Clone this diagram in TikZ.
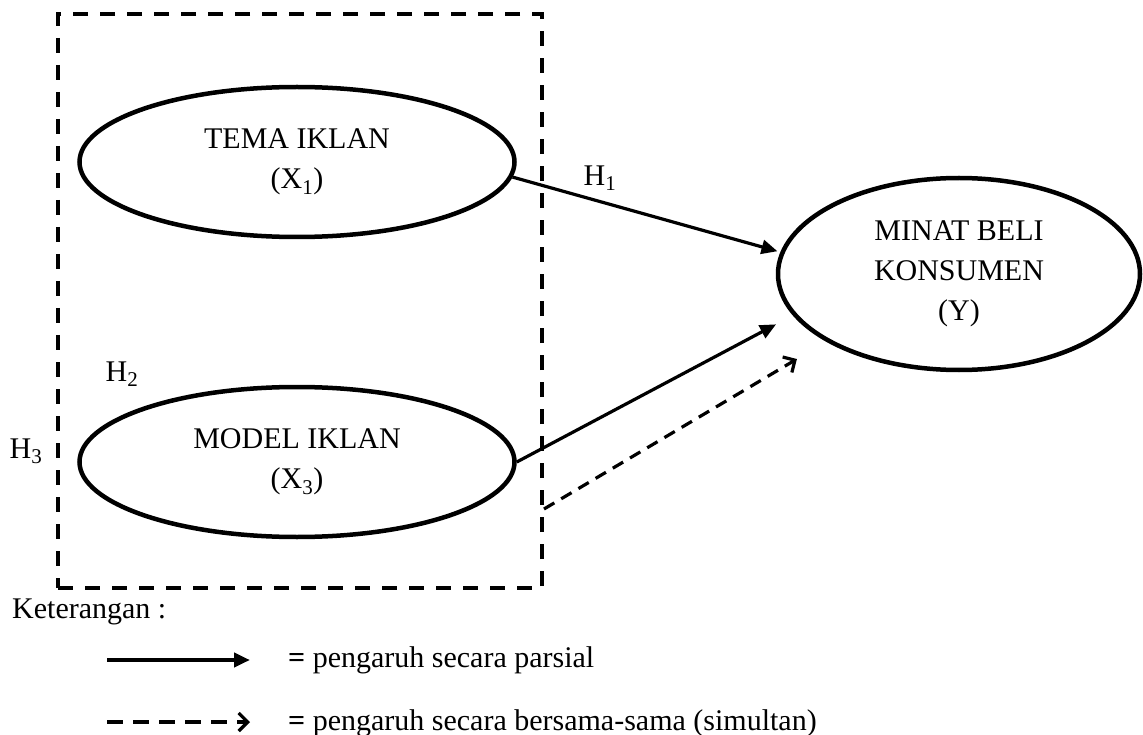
\documentclass[tikz,border=0pt]{standalone}
\usepackage{fontspec}
\setmainfont{Liberation Serif}
\usetikzlibrary{shapes.geometric,arrows.meta,calc}
\begin{document}
\begin{tikzpicture}[x=1pt,y=-1pt,
  every node/.style={font=\fontsize{30}{40}\selectfont},
  var/.style={ellipse, draw, line width=4.5pt, inner sep=0pt, align=center},
  boxstyle/.style={draw, line width=4pt, dash pattern=on 15pt off 12pt, inner sep=0pt},
  partial/.style={line width=3.2pt, -{Triangle[length=16pt,width=14pt]}},
  simul/.style={line width=3.2pt, dash pattern=on 12pt off 8pt, -{Straight Barb[length=9pt,width=18pt,line width=3.2pt]}},
  lbl/.style={inner sep=0pt}]
\useasboundingbox (0,0) rectangle (1143,735);

\node[boxstyle, minimum width=484pt, minimum height=574pt] (box) at (300,301) {};

\node[var, minimum width=435pt, minimum height=150pt] (e1) at (297,162) {TEMA IKLAN\\(X\textsubscript{1})};
\node[var, minimum width=435pt, minimum height=150pt] (e2) at (297,462) {MODEL IKLAN\\(X\textsubscript{3})};
\node[var, minimum width=362pt, minimum height=192pt] (y) at (959,274) {MINAT BELI\\KONSUMEN\\(Y)};

\node[lbl] (h1) at (600,178) {H\textsubscript{1}};
\node[lbl] (h2) at (122,374) {H\textsubscript{2}};
\node[lbl] (h3) at (26,451) {H\textsubscript{3}};

\draw[partial, shorten >=3pt] (e1.-4) -- (y.173);
\draw[partial, shorten >=19pt] (e2.east) -- (y.194);
\coordinate (ds) at ($(box.south east)+(0,-81)$);
\draw[simul, shorten >=34pt] (ds) -- (y.207);

\node[lbl, anchor=west] (ket) at (12,612) {Keterangan :};
\coordinate (l1a) at (107,660);
\coordinate (l1b) at (250,660);
\coordinate (l2a) at (107,722);
\coordinate (l2b) at (250,722);
\draw[partial, line width=4pt] (l1a) -- (l1b);
\draw[simul, line width=3.8pt, dash pattern=on 16pt off 10pt] (l2a) -- (l2b);
\node[lbl, anchor=west] (t1) at (288,660) {\textbf{=} pengaruh secara parsial};
\node[lbl, anchor=west] (t2) at (288,723) {\textbf{=} pengaruh secara bersama-sama (simultan)};
\end{tikzpicture}
\end{document}
